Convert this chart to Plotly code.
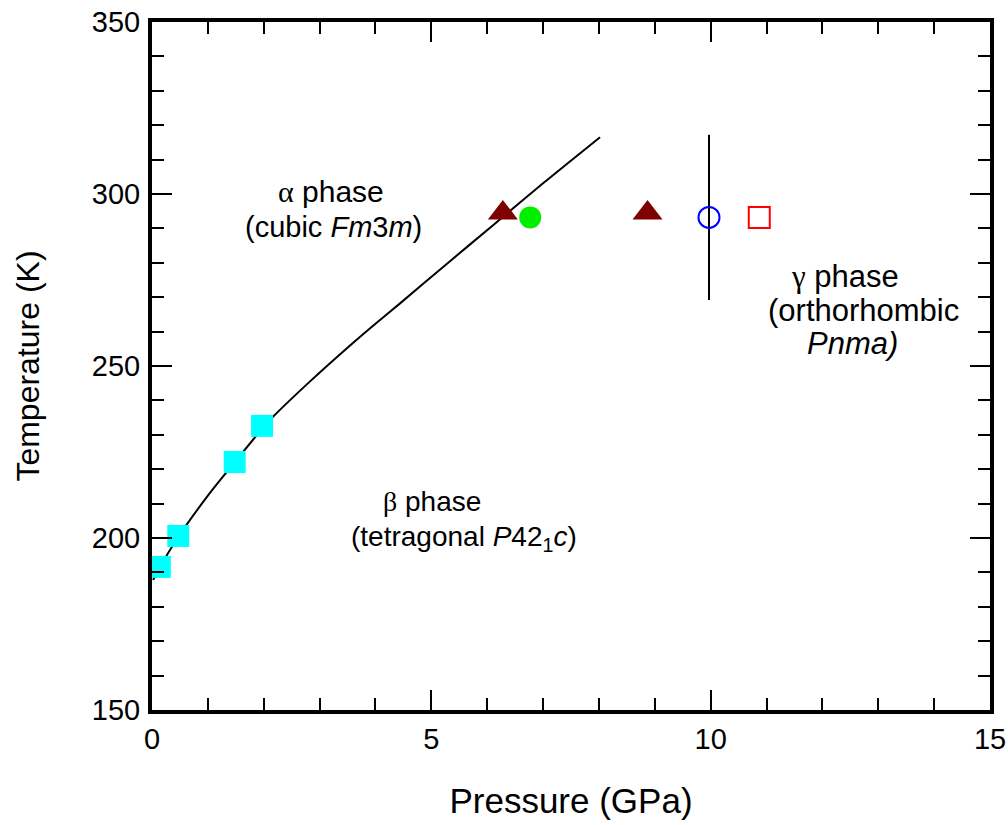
import plotly.graph_objects as go

# Data
curve_p = [0.02, 0.14, 0.47, 1.0, 1.48, 1.97, 2.17, 2.80, 3.54, 4.00, 4.44, 5.27, 6.11, 7.00, 8.02]
curve_t = [187.8, 191.5, 200.3, 212.3, 222.0, 231.7, 235.3, 245.1, 255.9, 262.3, 268.2, 279.6, 291.0, 303.1, 316.5]

beta_p = [0.14, 0.47, 1.48, 1.97]
beta_t = [191.6, 200.6, 222.1, 232.6]

tri_p = [6.28, 8.87]
tri_t = [294.5, 294.5]

green_p = [6.77]
green_t = [293.2]

blue_p = [9.97]
blue_t = [293.2]
blue_err = [24.0]

red_p = [10.87]
red_t = [293.2]

FONT = "Liberation Sans, Arial, sans-serif"
GREEK = '<span style="font-family:Liberation Serif">{}</span>'

fig = go.Figure()
fig.add_trace(go.Scatter(x=curve_p, y=curve_t, mode="lines",
                         line=dict(color="black", width=2, shape="spline", smoothing=0.8), showlegend=False))
fig.add_trace(go.Scatter(x=beta_p, y=beta_t, mode="markers",
                         marker=dict(symbol="square", size=22, color="#00FFFF"), showlegend=False))
fig.add_trace(go.Scatter(x=tri_p, y=tri_t, mode="markers",
                         marker=dict(symbol="triangle-up", size=26, color="#7F0000"), showlegend=False))
fig.add_trace(go.Scatter(x=green_p, y=green_t, mode="markers",
                         marker=dict(symbol="circle", size=22, color="#00EE00"), showlegend=False))
fig.add_trace(go.Scatter(x=blue_p, y=blue_t, mode="markers",
                         error_y=dict(type="data", array=blue_err, color="black", thickness=2, width=0),
                         marker=dict(symbol="circle-open", size=21, color="#0000FF", line=dict(width=2)),
                         showlegend=False))
fig.add_trace(go.Scatter(x=red_p, y=red_t, mode="markers",
                         marker=dict(symbol="square-open", size=21, color="#FF0000", line=dict(width=2)),
                         showlegend=False))

labels = [
    (GREEK.format("\u03b1") + " phase", 3.20, 300.6, 30),
    ("(cubic <i>Fm</i>3<i>m</i>)", 3.24, 290.4, 29),
    (GREEK.format("\u03b2") + " phase", 5.01, 210.5, 28),
    ("(tetragonal <i>P</i>42<sub>1</sub><i>c</i>)", 5.58, 200.0, 28),
    (GREEK.format("\u03b3") + " phase", 12.40, 275.9, 31),
    ("(orthorhombic", 12.74, 266.0, 31),
    ("<i>Pnma)</i>", 12.53, 256.4, 31),
]
for txt, x, y, s in labels:
    fig.add_annotation(x=x, y=y, text=txt, showarrow=False, xanchor="center", yanchor="middle",
                       font=dict(family=FONT, size=s, color="black"))

axis_common = dict(showgrid=False, zeroline=False, showline=True, linecolor="black", linewidth=4,
                   mirror="allticks", ticks="inside", tickcolor="black", tickwidth=2, ticklen=20,
                   automargin=False, tickfont=dict(family=FONT, size=29, color="black"))

fig.update_xaxes(range=[0, 15], dtick=5, tick0=0,
                 minor=dict(dtick=1, ticks="inside", ticklen=12, tickwidth=2, tickcolor="black"),
                 title=dict(text="Pressure (GPa)", font=dict(family=FONT, size=35, color="black"), standoff=36),
                 **axis_common)
fig.update_yaxes(range=[150, 350], dtick=50, tick0=150, ticklabelstandoff=2,
                 minor=dict(dtick=10, ticks="inside", ticklen=12, tickwidth=2, tickcolor="black"),
                 title=dict(text="Temperature (K)", font=dict(family=FONT, size=32, color="black"), standoff=44),
                 **axis_common)

fig.update_layout(width=1008, height=825, plot_bgcolor="white", paper_bgcolor="white",
                  margin=dict(l=152, r=18, t=22, b=115), showlegend=False)

# remove the default 8px page margin so the figure fills the window exactly
fig.write_html("out.html", config={"displayModeBar": False},
               post_script="document.body.style.margin='0';")
